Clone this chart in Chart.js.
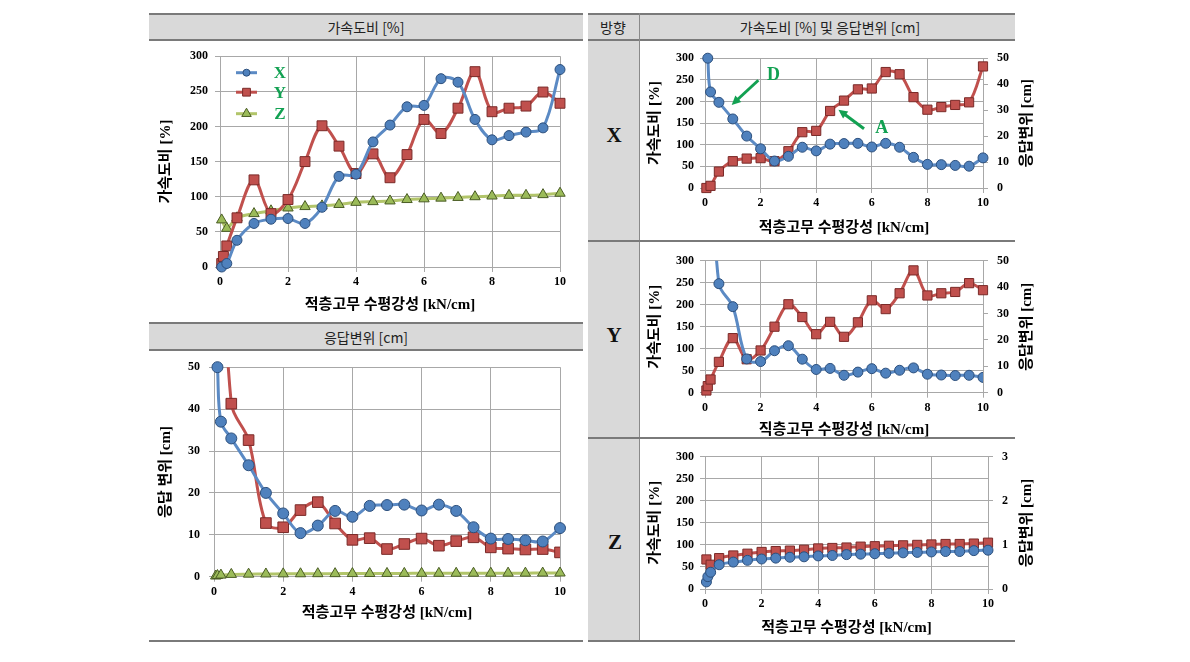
<!DOCTYPE html>
<html><head><meta charset="utf-8">
<script src="https://cdn.jsdelivr.net/npm/chart.js@4.4.1/dist/chart.umd.min.js"></script>
<style>
html,body{margin:0;padding:0;background:#fff;}
body{width:1190px;height:662px;position:relative;overflow:hidden;font-family:'Noto Sans CJK KR',sans-serif;}
.hdr{position:absolute;background:#d9d9d9;border-top:2px solid #7a7a7a;border-bottom:2px solid #7a7a7a;box-sizing:border-box;display:flex;align-items:center;justify-content:center;font-size:14px;color:#222;z-index:4;}
canvas{position:absolute;z-index:2;}
.ln{position:absolute;background:#7a7a7a;z-index:5;}
.vl{position:absolute;background:#8a8a8a;z-index:5;}
.rowlab{position:absolute;font:bold 21px 'Liberation Serif',serif;color:#111;transform:translate(-50%,-50%);z-index:4;}
.txt{position:absolute;transform:translate(-50%,-50%);font-size:14px;color:#222;z-index:6;white-space:nowrap;}
</style></head>
<body>
<div class="hdr" style="left:149px;top:13px;width:434px;height:28px;">가속도비 [%]</div>
<div class="hdr" style="left:149px;top:322px;width:434px;height:29px;">응답변위 [cm]</div>
<div style="position:absolute;left:588px;top:13px;width:51px;height:628px;background:#d9d9d9;z-index:1;"></div>
<div class="hdr" style="left:588px;top:13px;width:427px;height:28px;"></div>
<div class="txt" style="left:613px;top:27px;">방향</div>
<div class="txt" style="left:830px;top:27px;">가속도비 [%] 및 응답변위 [cm]</div>
<div class="vl" style="left:639px;top:13px;width:1px;height:628px;"></div>
<div class="ln" style="left:588px;top:240px;width:427px;height:2px;"></div>
<div class="ln" style="left:588px;top:437px;width:427px;height:2px;"></div>
<div class="ln" style="left:149px;top:640px;width:434px;height:2px;"></div>
<div class="ln" style="left:588px;top:640px;width:427px;height:2px;"></div>
<div class="rowlab" style="left:614px;top:135px;">X</div>
<div class="rowlab" style="left:614px;top:335px;">Y</div>
<div class="rowlab" style="left:615px;top:542px;">Z</div>

<canvas id="c1"></canvas>
<canvas id="c2"></canvas>
<canvas id="c3"></canvas>
<canvas id="c4"></canvas>
<canvas id="c5"></canvas>

<script>
// ---------- data ----------
const stiffness = [0.05,0.1,0.2,0.5,1,1.5,2,2.5,3,3.5,4,4.5,5,5.5,6,6.5,7,7.5,8,8.5,9,9.5,10];
const accX  = [0,null,5,38,62,68,69,62,85,129,132,178,202,228,230,268,263,210,181,187,192,198,281];
const accY  = [5,15,30,70,124,76,96,150,201,172,133,161,127,160,210,190,226,278,221,226,229,249,233];
const accZ  = [67,null,55,70,76,80,84,86,87,89,92,93,94,96,97,98,99,100,101,102,102,103,105];
const dispX = [null,50,37,33,26.6,20,15.1,10.4,12.2,15.7,14.3,16.9,17.1,17.2,15.8,17.2,15.7,11.8,9.1,9.0,8.7,8.4,11.6];
const dispY = [null,null,100,41.3,32.6,12.8,11.8,15.9,17.8,12.7,8.8,9.2,6.6,7.8,9.1,7.4,8.5,9.4,7.0,6.7,6.5,6.6,5.8];
const dispZ = [0.16,0.28,0.38,0.55,0.61,0.65,0.68,0.7,0.72,0.73,0.75,0.76,0.78,0.79,0.8,0.81,0.82,0.83,0.84,0.85,0.85,0.87,0.88];
const xTicks = {min:0, max:10, step:2};
const accTicks = {min:0, max:300, step:50};
const dispTicks = {min:0, max:50, step:10};
const dispZTicks = {min:0, max:3, step:1};
const legendLabels = ['X','Y','Z'];

// ---------- style ----------
const gridCol = '#a8a8a8';
const tickFont = {family:"'Liberation Serif', serif", size:12, weight:'bold'};
const titleFont = {family:"'Liberation Serif', 'Noto Sans CJK KR', sans-serif", size:15, weight:'bold'};
const COL = {
  blue:{line:'#5b8ac4', fill:'#4f81bd', edge:'#2c4f7c'},
  red:{line:'#c0504d', fill:'#c0504d', edge:'#7a2a28'},
  green:{line:'#b2c56a', fill:'#9bbb59', edge:'#4a5c24'}
};
const greenText = '#12a152';

function pts(arr){ return stiffness.map((x,i)=>({x, y:arr[i]})).filter(p=>p.y!==null && p.y!==undefined); }
function series(label, arr, col, style, r, axis, clip){
  return {label, data:pts(arr), borderColor:col.line, backgroundColor:col.fill,
    pointBackgroundColor:col.fill, pointBorderColor:col.edge, pointBorderWidth:1,
    pointStyle:style, pointRadius:r, pointHoverRadius:r, borderWidth:3, tension:0.35,
    yAxisID:axis||'y', clip:(clip===undefined?false:clip), fill:false};
}

function drawMarker(ctx, style, x, y, r){
  ctx.beginPath();
  if(style==='circle'){ ctx.arc(x,y,r,0,Math.PI*2); }
  else if(style==='rect'){ const s=r*Math.SQRT1_2; ctx.rect(x-s,y-s,2*s,2*s); }
  else if(style==='triangle'){
    ctx.moveTo(x, y-r); ctx.lineTo(x+r*0.866, y+r*0.5); ctx.lineTo(x-r*0.866, y+r*0.5); ctx.closePath();
  }
  ctx.fill(); ctx.stroke();
}

const innerLegend = {
  id:'innerLegend',
  afterDatasetsDraw(chart, args, opts){
    if(!opts || !opts.display) return;
    const {ctx, chartArea} = chart;
    const ys = opts.ys;
    chart.data.datasets.forEach((ds,i)=>{
      const y = chartArea.top + ys[i];
      const x0 = chartArea.left + opts.x0, x1 = chartArea.left + opts.x1;
      ctx.save();
      ctx.strokeStyle = ds.borderColor; ctx.lineWidth = 3;
      ctx.beginPath(); ctx.moveTo(x0,y); ctx.lineTo(x1,y); ctx.stroke();
      ctx.fillStyle = ds.pointBackgroundColor; ctx.strokeStyle = ds.pointBorderColor; ctx.lineWidth = 1;
      drawMarker(ctx, ds.pointStyle, (x0+x1)/2, y, opts.r[i]);
      ctx.fillStyle = greenText; ctx.font = "bold 17px 'Liberation Serif', serif";
      ctx.textAlign='center'; ctx.textBaseline='middle';
      ctx.fillText(opts.labels[i], chartArea.left + opts.tx, y+1);
      ctx.restore();
    });
  }
};

const sideTitle = {
  id:'sideTitle',
  afterDraw(chart, args, opts){
    if(!opts || !opts.text) return;
    const ctx = chart.ctx, ca = chart.chartArea;
    ctx.save();
    ctx.translate(chart.width - opts.offset, (ca.top+ca.bottom)/2);
    ctx.rotate(opts.rotation);
    ctx.font = "bold 15px 'Liberation Serif', 'Noto Sans CJK KR', sans-serif";
    ctx.fillStyle = '#000'; ctx.textAlign='center'; ctx.textBaseline='middle';
    ctx.fillText(opts.text, 0, 0);
    ctx.restore();
  }
};

const arrowNotes = {
  id:'arrowNotes',
  afterDatasetsDraw(chart, args, opts){
    if(!opts || !opts.items) return;
    const ctx = chart.ctx, xs = chart.scales.x, ys = chart.scales.y;
    opts.items.forEach(it=>{
      const tx = xs.getPixelForValue(it.text[0]), ty = ys.getPixelForValue(it.text[1]);
      const ax = xs.getPixelForValue(it.from[0]), ay = ys.getPixelForValue(it.from[1]);
      const bx = xs.getPixelForValue(it.to[0]), by = ys.getPixelForValue(it.to[1]);
      ctx.save();
      ctx.strokeStyle = greenText; ctx.fillStyle = greenText; ctx.lineWidth = 3;
      const ang = Math.atan2(by-ay, bx-ax), hl = 10;
      const ex = bx - Math.cos(ang)*hl*0.8, ey = by - Math.sin(ang)*hl*0.8;
      ctx.beginPath(); ctx.moveTo(ax,ay); ctx.lineTo(ex,ey); ctx.stroke();
      ctx.beginPath(); ctx.moveTo(bx,by);
      ctx.lineTo(bx - hl*Math.cos(ang-0.45), by - hl*Math.sin(ang-0.45));
      ctx.lineTo(bx - hl*Math.cos(ang+0.45), by - hl*Math.sin(ang+0.45));
      ctx.closePath(); ctx.fill();
      ctx.font = "bold 18px 'Liberation Serif', serif";
      ctx.textAlign='center'; ctx.textBaseline='middle';
      ctx.fillText(it.label, tx, ty);
      ctx.restore();
    });
  }
};

function xScale(box, plot, title, titleCY){
  const h = box.y + box.h - plot.b;
  const off = box.y + box.h - titleCY;
  return {type:'linear', min:xTicks.min, max:xTicks.max,
    ticks:{stepSize:xTicks.step, font:tickFont, color:'#000', padding:3, maxRotation:0, autoSkip:false},
    grid:{color:gridCol, tickLength:5}, border:{color:gridCol},
    title:{display:true, text:title, font:titleFont, color:'#000', padding:{top:0, bottom:off - titleFont.size*0.6}},
    afterFit(s){ s.height = h; }};
}
function yScale(box, plot, t, title, titleCX, tickPad){
  const w = plot.l - box.x;
  const off = titleCX - box.x;
  return {type:'linear', position:'left', min:t.min, max:t.max,
    ticks:{stepSize:t.step, font:tickFont, color:'#000', padding:tickPad},
    grid:{color:gridCol, tickLength:5}, border:{color:gridCol},
    title:{display:true, text:title, font:titleFont, color:'#000', padding:{top:off - titleFont.size*0.6, bottom:0}},
    afterFit(s){ s.width = w; }};
}
function y2Scale(box, plot, t){
  const w = box.x + box.w - plot.r;
  return {type:'linear', position:'right', min:t.min, max:t.max,
    ticks:{stepSize:t.step, font:tickFont, color:'#000', padding:9},
    grid:{color:gridCol, tickLength:5, drawOnChartArea:false}, border:{color:gridCol},
    afterFit(s){ s.width = w; }};
}

function makeChart(id, box, plot, datasets, scales, plugins, pluginOpts, hasRight){
  const cv = document.getElementById(id);
  cv.width = box.w; cv.height = box.h;
  cv.style.left = box.x+'px'; cv.style.top = box.y+'px';
  cv.style.width = box.w+'px'; cv.style.height = box.h+'px';
  const padRight = hasRight ? 0 : (box.x + box.w - plot.r);
  return new Chart(cv.getContext('2d'), {
    type:'line',
    data:{datasets},
    options:{
      responsive:false, animation:false, devicePixelRatio:1,
      layout:{padding:{top:plot.t - box.y, right:padRight, left:0, bottom:0}},
      plugins:Object.assign({legend:{display:false}, tooltip:{enabled:false}}, pluginOpts),
      scales
    },
    plugins
  });
}

const xTitle = '적층고무 수평강성 [kN/cm]';
const xTitleY = '직층고무 수평강성 [kN/cm]';
const accTitle = '가속도비 [%]';
const dispTitle = '응답변위 [cm]';
const dispTitle2 = '응답 변위 [cm]';
const sideRot = -Math.PI/2;

// Chart 1: acceleration ratio (top-left)
{
  const box = {x:149, y:42, w:434, h:280};
  const plot = {l:220, t:55.7, r:560, b:267};
  makeChart('c1', box, plot, [
      series(legendLabels[0], accX, COL.blue, 'circle', 5),
      series(legendLabels[1], accY, COL.red, 'rect', 7),
      series(legendLabels[2], accZ, COL.green, 'triangle', 6)
    ],
    {x:xScale(box, plot, xTitle, 305), y:yScale(box, plot, accTicks, accTitle, 166, 7)},
    [innerLegend],
    {innerLegend:{display:true, x0:16, x1:37, ys:[16.5, 36, 57.5], r:[3.5,5.5,5.5], tx:60, labels:legendLabels}},
    false);
}
// Chart 2: response displacement (bottom-left)
{
  const box = {x:149, y:351, w:434, h:289};
  const plot = {l:214, t:365, r:560, b:576.7};
  makeChart('c2', box, plot, [
      series(legendLabels[0], dispX, COL.blue, 'circle', 5.5),
      series(legendLabels[1], dispY, COL.red, 'rect', 7.5, 'y', true),
      series(legendLabels[2], dispZ, COL.green, 'triangle', 6)
    ],
    {x:xScale(box, plot, xTitle, 613), y:yScale(box, plot, dispTicks, dispTitle2, 166, 9)},
    [], {}, false);
}
// Chart 3: X direction
{
  const box = {x:640, y:42, w:405, h:198};
  const plot = {l:705, t:55.7, r:983, b:188};
  makeChart('c3', box, plot, [
      series('응답변위 X', dispX, COL.blue, 'circle', 5, 'y2'),
      series('가속도비 X', accX, COL.red, 'rect', 6.5, 'y')
    ],
    {x:xScale(box, plot, xTitle, 228), y:yScale(box, plot, accTicks, accTitle, 655, 6), y2:y2Scale(box, plot, dispTicks)},
    [sideTitle, arrowNotes],
    {sideTitle:{text:dispTitle, offset:18, rotation:sideRot},
     arrowNotes:{items:[
       {label:'D', text:[2.46, 261], from:[1.92, 249], to:[0.96, 192]},
       {label:'A', text:[6.36, 137], from:[5.72, 137], to:[4.8, 181]}
     ]}},
    true);
}
// Chart 4: Y direction
{
  const box = {x:640, y:243, w:405, h:196};
  const plot = {l:705, t:260.7, r:983, b:392.7};
  makeChart('c4', box, plot, [
      series('응답변위 Y', dispY, COL.blue, 'circle', 5, 'y2', true),
      series('가속도비 Y', accY, COL.red, 'rect', 6.5, 'y')
    ],
    {x:xScale(box, plot, xTitleY, 430), y:yScale(box, plot, accTicks, accTitle, 655, 6), y2:y2Scale(box, plot, dispTicks)},
    [sideTitle], {sideTitle:{text:dispTitle, offset:18, rotation:sideRot}}, true);
}
// Chart 5: Z direction
{
  const box = {x:640, y:440, w:405, h:200};
  const plot = {l:705, t:456.7, r:988, b:589};
  makeChart('c5', box, plot, [
      series('응답변위 Z', dispZ, COL.blue, 'circle', 5, 'y2'),
      series('가속도비 Z', accZ, COL.red, 'rect', 6.5, 'y')
    ],
    {x:xScale(box, plot, xTitle, 628), y:yScale(box, plot, accTicks, accTitle, 655, 6), y2:y2Scale(box, plot, dispZTicks)},
    [sideTitle], {sideTitle:{text:dispTitle, offset:18, rotation:sideRot}}, true);
}
</script>
</body></html>
